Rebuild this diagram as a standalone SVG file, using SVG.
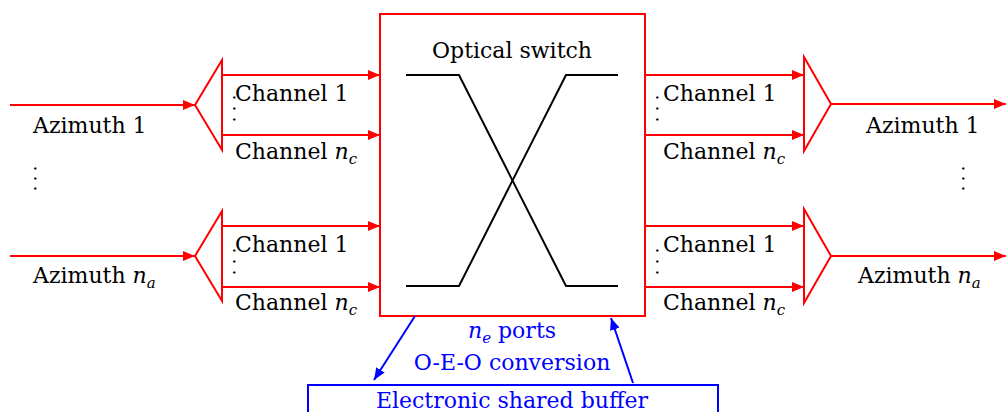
<svg xmlns="http://www.w3.org/2000/svg" width="1006" height="412" viewBox="0 0 1006 412">
<style>
.r{stroke:#ff0000;stroke-width:2;fill:none}
.b{stroke:#0000ff;stroke-width:2;fill:none}
.k{stroke:#000;stroke-width:2;fill:none}
text{font-family:"DejaVu Serif","Liberation Serif",serif;font-size:22px;fill:#000}
.bt{fill:#0000ff}
.i{font-style:italic}
.s{font-size:15px;font-style:italic}
.d{font-family:"Liberation Serif",serif;font-size:20px;letter-spacing:6px}
</style>
<defs>
<marker id="ar" markerUnits="userSpaceOnUse" markerWidth="12" markerHeight="10" refX="12" refY="5" orient="auto"><path d="M0,0 L12,5 L0,10 z" fill="#ff0000"/></marker>
<marker id="ab" markerUnits="userSpaceOnUse" markerWidth="12" markerHeight="10" refX="12" refY="5" orient="auto"><path d="M0,0 L12,5 L0,10 z" fill="#0000ff"/></marker>
</defs>
<g id="switch">
<rect x="380" y="14" width="265" height="302" class="r"/>
<text x="512" y="58" text-anchor="middle">Optical switch</text>
<polyline points="406,75 459,75 566,286 618,286" class="k"/>
<polyline points="406,286 459,286 566,75 618,75" class="k"/>
</g>
<g id="demux1">
<path d="M222,60 L195,105 L222,150 Z" class="r"/>
</g>
<g id="demux2">
<path d="M222,211 L195,256 L222,301 Z" class="r"/>
</g>
<g id="mux1">
<path d="M804,57 L831,104 L804,151 Z" class="r"/>
</g>
<g id="mux2">
<path d="M804,209 L831,256 L804,303 Z" class="r"/>
</g>
<g id="buffer">
<rect x="308" y="385" width="410" height="40" class="b"/>
<text x="512" y="408" text-anchor="middle" class="bt">Electronic shared buffer</text>
</g>
<g id="connectors">
<line x1="10" y1="105" x2="195" y2="105" class="r" marker-end="url(#ar)"/>
<line x1="10" y1="256" x2="195" y2="256" class="r" marker-end="url(#ar)"/>
<line x1="222" y1="75" x2="380" y2="75" class="r" marker-end="url(#ar)"/>
<line x1="222" y1="135" x2="380" y2="135" class="r" marker-end="url(#ar)"/>
<line x1="222" y1="226" x2="380" y2="226" class="r" marker-end="url(#ar)"/>
<line x1="222" y1="287" x2="380" y2="287" class="r" marker-end="url(#ar)"/>
<line x1="645" y1="75" x2="804" y2="75" class="r" marker-end="url(#ar)"/>
<line x1="645" y1="135" x2="804" y2="135" class="r" marker-end="url(#ar)"/>
<line x1="645" y1="226" x2="804" y2="226" class="r" marker-end="url(#ar)"/>
<line x1="645" y1="287" x2="804" y2="287" class="r" marker-end="url(#ar)"/>
<line x1="831" y1="104" x2="1006" y2="104" class="r" marker-end="url(#ar)"/>
<line x1="831" y1="256" x2="1006" y2="256" class="r" marker-end="url(#ar)"/>
<line x1="415" y1="316" x2="374" y2="380" class="b" marker-end="url(#ab)"/>
<line x1="633" y1="383" x2="611" y2="318" class="b" marker-end="url(#ab)"/>
</g>
<g id="labels">
<text x="33" y="133">Azimuth 1</text>
<text x="33" y="283">Azimuth <tspan class="i">n</tspan><tspan class="s" dy="5">a</tspan></text>
<text x="866" y="133">Azimuth 1</text>
<text x="858" y="283">Azimuth <tspan class="i">n</tspan><tspan class="s" dy="5">a</tspan></text>
<text x="235" y="101">Channel 1</text>
<text x="235" y="159">Channel <tspan class="i">n</tspan><tspan class="s" dy="5">c</tspan></text>
<text x="235" y="252">Channel 1</text>
<text x="235" y="310">Channel <tspan class="i">n</tspan><tspan class="s" dy="5">c</tspan></text>
<text x="663" y="101">Channel 1</text>
<text x="663" y="159">Channel <tspan class="i">n</tspan><tspan class="s" dy="5">c</tspan></text>
<text x="663" y="252">Channel 1</text>
<text x="663" y="310">Channel <tspan class="i">n</tspan><tspan class="s" dy="5">c</tspan></text>
<text class="d" transform="translate(233,95) rotate(90)">...</text>
<text class="d" transform="translate(233,248) rotate(90)">...</text>
<text class="d" transform="translate(656,95) rotate(90)">...</text>
<text class="d" transform="translate(656,248) rotate(90)">...</text>
<text class="d" style="letter-spacing:5px" transform="translate(34,166) rotate(90)">...</text>
<text class="d" style="letter-spacing:5px" transform="translate(962,166) rotate(90)">...</text>
<text x="512" y="338" text-anchor="middle" class="bt"><tspan class="i">n</tspan><tspan class="s" dy="5">e</tspan><tspan dy="-5"> ports</tspan></text>
<text x="512" y="370" text-anchor="middle" class="bt">O-E-O conversion</text>
</g>
</svg>
